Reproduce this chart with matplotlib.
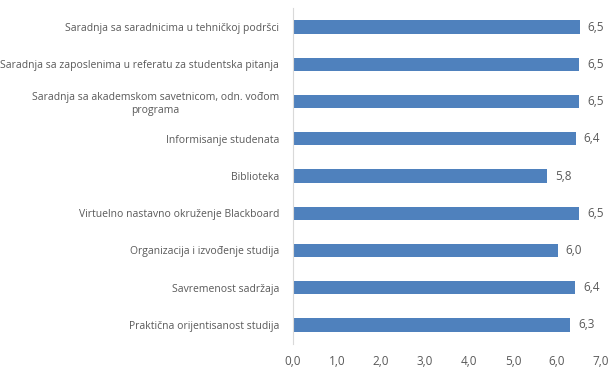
import matplotlib.pyplot as plt

categories = [
    "Saradnja sa saradnicima u tehničkoj podršci",
    "Saradnja sa zaposlenima u referatu za studentska pitanja",
    "Saradnja sa akademskom savetnicom, odn. vođom\nprograma",
    "Informisanje studenata",
    "Biblioteka",
    "Virtuelno nastavno okruženje Blackboard",
    "Organizacija i izvođenje studija",
    "Savremenost sadržaja",
    "Praktična orijentisanost studija",
]
values = [6.52, 6.51, 6.50, 6.43, 5.77, 6.50, 6.02, 6.42, 6.30]
xticks = [0, 1, 2, 3, 4, 5, 6, 7]

bar_color = "#4f81bd"
text_color = "#595959"
plt.rcParams['font.family'] = ['Open Sans', 'DejaVu Sans']

fig = plt.figure(figsize=(6.15, 3.73), dpi=100)
ax = fig.add_axes([0.4764, 0.0788, 0.5008, 0.8987])

pos = list(range(len(categories)))
ax.barh(pos, values, height=0.35, color=bar_color)
ax.set_ylim(len(categories) - 0.5, -0.5)
ax.set_xlim(0, 7)

# value labels with comma decimals
for p, v in zip(pos, values):
    ax.text(v + 0.18, p, f"{v:.1f}".replace(".", ","), va="center", ha="left",
            fontsize=8.5, color=text_color)

ax.set_yticks(pos)
ax.set_yticklabels(categories, fontsize=7.5, color=text_color,
                   multialignment="center")
ax.set_xticks(xticks)
ax.set_xticklabels([f"{t:.1f}".replace(".", ",") for t in xticks], fontsize=8.5,
                   color=text_color)
ax.tick_params(axis="y", length=0, pad=10)
ax.tick_params(axis="x", length=0, pad=8)

for side in ["top", "right", "bottom"]:
    ax.spines[side].set_visible(False)
ax.spines["left"].set_color("#d9d9d9")

fig.savefig("out.png", dpi=100)
